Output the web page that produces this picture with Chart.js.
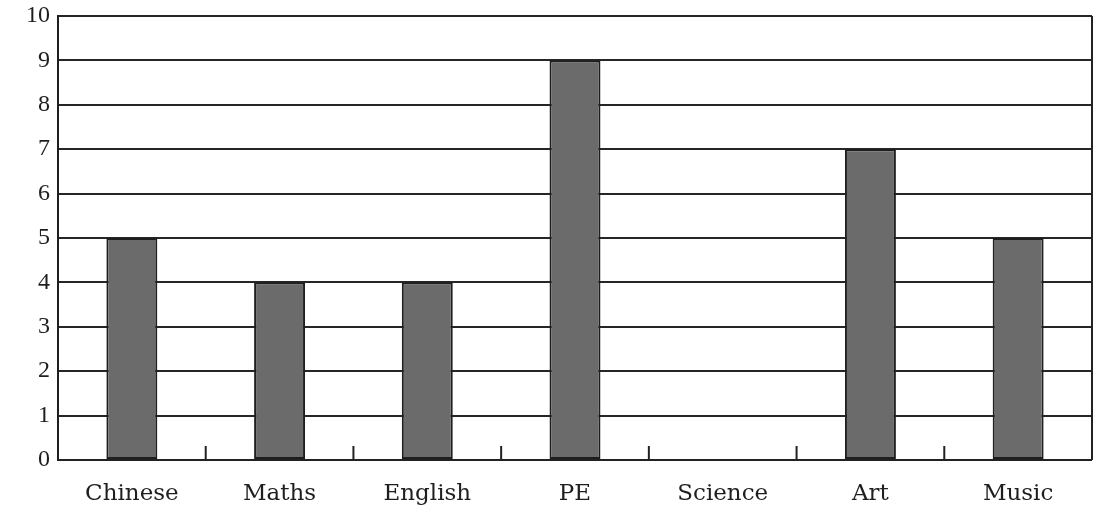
<!DOCTYPE html>
<html>
<head>
<meta charset="utf-8">
<script src="https://cdn.jsdelivr.net/npm/chart.js@4/dist/chart.umd.min.js"></script>
<style>
html,body{margin:0;padding:0;background:#fff;}
#wrap{width:1111px;height:518px;position:relative;}
</style>
</head>
<body>
<div id="wrap"><canvas id="c" width="1111" height="518"></canvas></div>
<script>
const categories = ["Chinese","Maths","English","PE","Science","Art","Music"];
const values = [5,4,4,9,0,7,5];
const yTicks = [0,1,2,3,4,5,6,7,8,9,10];

const frame = {
  id:'frame',
  afterDatasetsDraw(chart){
    const {ctx, chartArea:a, scales:{x}} = chart;
    ctx.save();
    ctx.strokeStyle = '#222';
    ctx.lineWidth = 2;
    ctx.beginPath();
    ctx.moveTo(a.right, a.top); ctx.lineTo(a.right, a.bottom);
    ctx.moveTo(a.left, a.bottom); ctx.lineTo(a.right, a.bottom);
    ctx.stroke();
    ctx.beginPath();
    for (let i = 0; i < categories.length - 1; i++) {
      const px = (x.getPixelForValue(i) + x.getPixelForValue(i+1)) / 2;
      ctx.moveTo(px, a.bottom); ctx.lineTo(px, a.bottom - 14);
    }
    ctx.stroke();
    ctx.restore();
  }
};

new Chart(document.getElementById('c'), {
  type:'bar',
  data:{
    labels:categories,
    datasets:[{
      data:values,
      backgroundColor:'#6b6b6b',
      borderColor:'#1e1e1e',
      borderWidth:2,
      borderSkipped:false,
      barPercentage:0.69,
      categoryPercentage:0.5
    }]
  },
  options:{
    responsive:false,
    animation:false,
    devicePixelRatio:1,
    layout:{padding:{top:16,right:19,left:0,bottom:0}},
    plugins:{legend:{display:false},tooltip:{enabled:false}},
    scales:{
      x:{
        afterFit(s){ s.height = 58; s.paddingLeft = 0; s.paddingRight = 0; },
        grid:{display:false},
        border:{display:false},
        ticks:{color:'#1e1e1e',font:{family:'DejaVu Serif',size:23},padding:12,maxRotation:0}
      },
      y:{
        min:0,max:10,
        afterBuildTicks(s){ s.ticks = yTicks.map(v=>({value:v})); },
        afterFit(s){ s.width = 58; s.paddingTop = 0; s.paddingBottom = 0; },
        grid:{color:'#262626',lineWidth:2,drawTicks:false},
        border:{display:true,color:'#1e1e1e',width:2},
        ticks:{color:'#1e1e1e',font:{family:'Liberation Serif',size:24},padding:8}
      }
    }
  },
  plugins:[frame]
});
</script>
</body>
</html>
